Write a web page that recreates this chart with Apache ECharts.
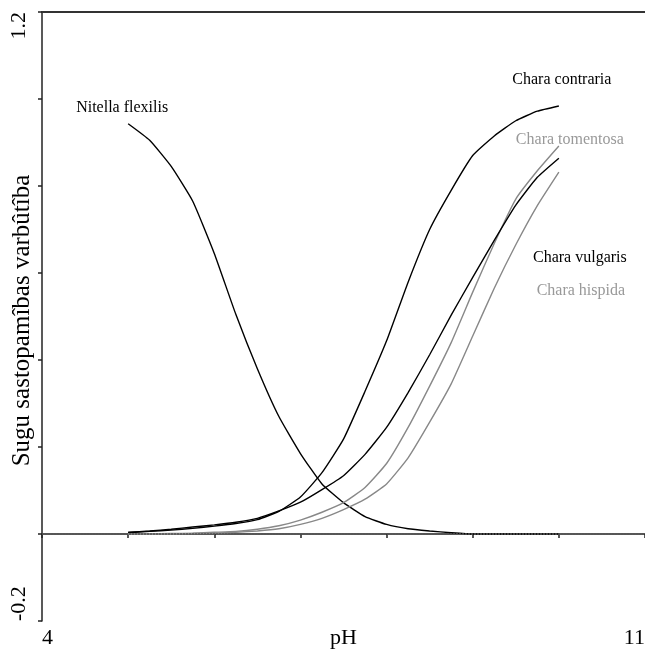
<!DOCTYPE html>
<html>
<head>
<meta charset="utf-8">
<title>pH</title>
<script src="https://cdn.jsdelivr.net/npm/echarts@6/dist/echarts.min.js"></script>
<style>
    html, body {margin: 0; padding: 0; background: #fff;}
    #phchart {width: 645px; height: 655px;}
</style>
</head>
<body>
<div id="phchart"></div>
<script>
// pH punkti (x ass)
var phValues = [5.0, 5.25, 5.5, 5.75, 6.0, 6.25, 6.5, 6.75, 7.0, 7.25, 7.5,
    7.75, 8.0, 8.25, 8.5, 8.75, 9.0, 9.25, 9.5, 9.75, 10.0];

// sugu varbutibas
var nitellaFlexilis = [0.943, 0.905, 0.845, 0.765, 0.645, 0.505, 0.38, 0.27, 0.185, 0.115, 0.072,
    0.04, 0.022, 0.012, 0.007, 0.003, 0.0, 0.0, 0.0, 0.0, 0.0];
var charaContraria = [0.003, 0.006, 0.009, 0.013, 0.018, 0.024, 0.033, 0.052, 0.085, 0.141, 0.218,
    0.328, 0.444, 0.579, 0.70, 0.79, 0.87, 0.915, 0.95, 0.972, 0.984];
var charaVulgaris = [0.004, 0.007, 0.011, 0.016, 0.021, 0.027, 0.036, 0.053, 0.073, 0.102, 0.134,
    0.183, 0.245, 0.325, 0.412, 0.503, 0.59, 0.675, 0.756, 0.82, 0.864];
var charaTomentosa = [0.0, 0.0, 0.001, 0.002, 0.004, 0.006, 0.011, 0.019, 0.032, 0.05, 0.072,
    0.107, 0.162, 0.245, 0.34, 0.44, 0.556, 0.668, 0.77, 0.835, 0.892];
var charaHispida = [0.0, 0.0, 0.0, 0.001, 0.002, 0.004, 0.007, 0.012, 0.022, 0.036, 0.056,
    0.08, 0.115, 0.175, 0.257, 0.345, 0.455, 0.565, 0.665, 0.755, 0.832];

// ass robezas
var xMin = 4, xMax = 11, xStep = 1;
var yMin = -0.2, yMax = 1.2, yStep = 0.2;

var serifFont = '"Liberation Serif", "DejaVu Serif", serif';

function makeData(values, labelIndex, labelText, labelColor, offset) {
    var list = [];
    for (var i = 0; i < values.length; i++) {
        var item = {value: [phValues[i], values[i]]};
        if (i == labelIndex) {
            item.label = {
                show: true,
                position: 'inside',
                offset: offset,
                formatter: labelText,
                color: labelColor,
                fontFamily: serifFont,
                fontSize: 16
            };
        }
        list.push(item);
    }
    return list;
}

function makeSeries(name, values, color, labelIndex, labelColor, offset) {
    return {
        name: name,
        type: 'line',
        data: makeData(values, labelIndex, name, labelColor, offset),
        symbol: 'circle',
        symbolSize: 0,
        showSymbol: true,
        smooth: 0.15,
        lineStyle: {color: color, width: 1.4},
        itemStyle: {color: color},
        z: 3
    };
}

function drawChart() {
    var myChart = echarts.init(document.getElementById('phchart'));
    var last = phValues.length - 1;

    var series = [
        makeSeries('Nitella flexilis', nitellaFlexilis, '#000', 0, '#000', [-6, -16]),
        makeSeries('Chara contraria', charaContraria, '#000', last, '#000', [3, -26]),
        makeSeries('Chara tomentosa', charaTomentosa, '#888', last, '#999', [11, -6]),
        makeSeries('Chara vulgaris', charaVulgaris, '#000', last, '#000', [21, 100]),
        makeSeries('Chara hispida', charaHispida, '#888', last, '#999', [22, 119])
    ];

    // nulles linija
    series[0].markLine = {
        silent: true,
        symbol: 'none',
        label: {show: false},
        lineStyle: {color: '#555', width: 1.5, type: [2, 1]},
        data: [{yAxis: 0}]
    };

    var option = {
        animation: false,
        backgroundColor: '#fff',
        grid: {left: 42, right: 0, top: 12, bottom: 34, containLabel: false, outerBoundsMode: 'none'},
        xAxis: [{
            type: 'value',
            min: xMin,
            max: xMax,
            interval: xStep,
            name: 'pH',
            nameLocation: 'middle',
            nameGap: 6,
            nameMoveOverlap: false,
            nameTextStyle: {fontFamily: serifFont, fontSize: 22, color: '#000', verticalAlign: 'top'},
            splitLine: {show: false},
            axisLine: {lineStyle: {color: '#222', width: 1.5}},
            axisTick: {inside: false, length: 4, lineStyle: {color: '#222', width: 1.5}},
            axisLabel: {
                fontFamily: serifFont,
                fontSize: 22,
                color: '#000',
                margin: 6,
                alignMinLabel: 'left',
                alignMaxLabel: 'right',
                formatter: function (v) {
                    return (v == xMin || v == xMax) ? String(v) : '';
                }
            }
        }, {
            type: 'value',
            position: 'top',
            min: xMin,
            max: xMax,
            axisLine: {lineStyle: {color: '#333', width: 2}},
            axisTick: {show: false},
            axisLabel: {show: false},
            splitLine: {show: false}
        }],
        yAxis: {
            type: 'value',
            min: yMin,
            max: yMax,
            interval: yStep,
            name: 'Sugu sastopamîbas varbûtîba',
            nameLocation: 'middle',
            nameGap: 7,
            nameMoveOverlap: false,
            nameTextStyle: {fontFamily: serifFont, fontSize: 25, color: '#000', padding: [0, 8, 0, 0]},
            splitLine: {show: false},
            axisLine: {show: true, lineStyle: {color: '#222', width: 1.5}},
            axisTick: {show: true, inside: false, length: 4, lineStyle: {color: '#222', width: 1.5}},
            axisLabel: {
                rotate: 90,
                fontFamily: serifFont,
                fontSize: 22,
                color: '#000',
                margin: 12,
                alignMinLabel: 'left',
                alignMaxLabel: 'right',
                formatter: function (v) {
                    if (Math.abs(v - yMin) < 1e-6 || Math.abs(v - yMax) < 1e-6) {
                        return v.toFixed(1);
                    }
                    return '';
                }
            }
        },
        series: series
    };

    myChart.setOption(option);
}

drawChart();
</script>
</body>
</html>
